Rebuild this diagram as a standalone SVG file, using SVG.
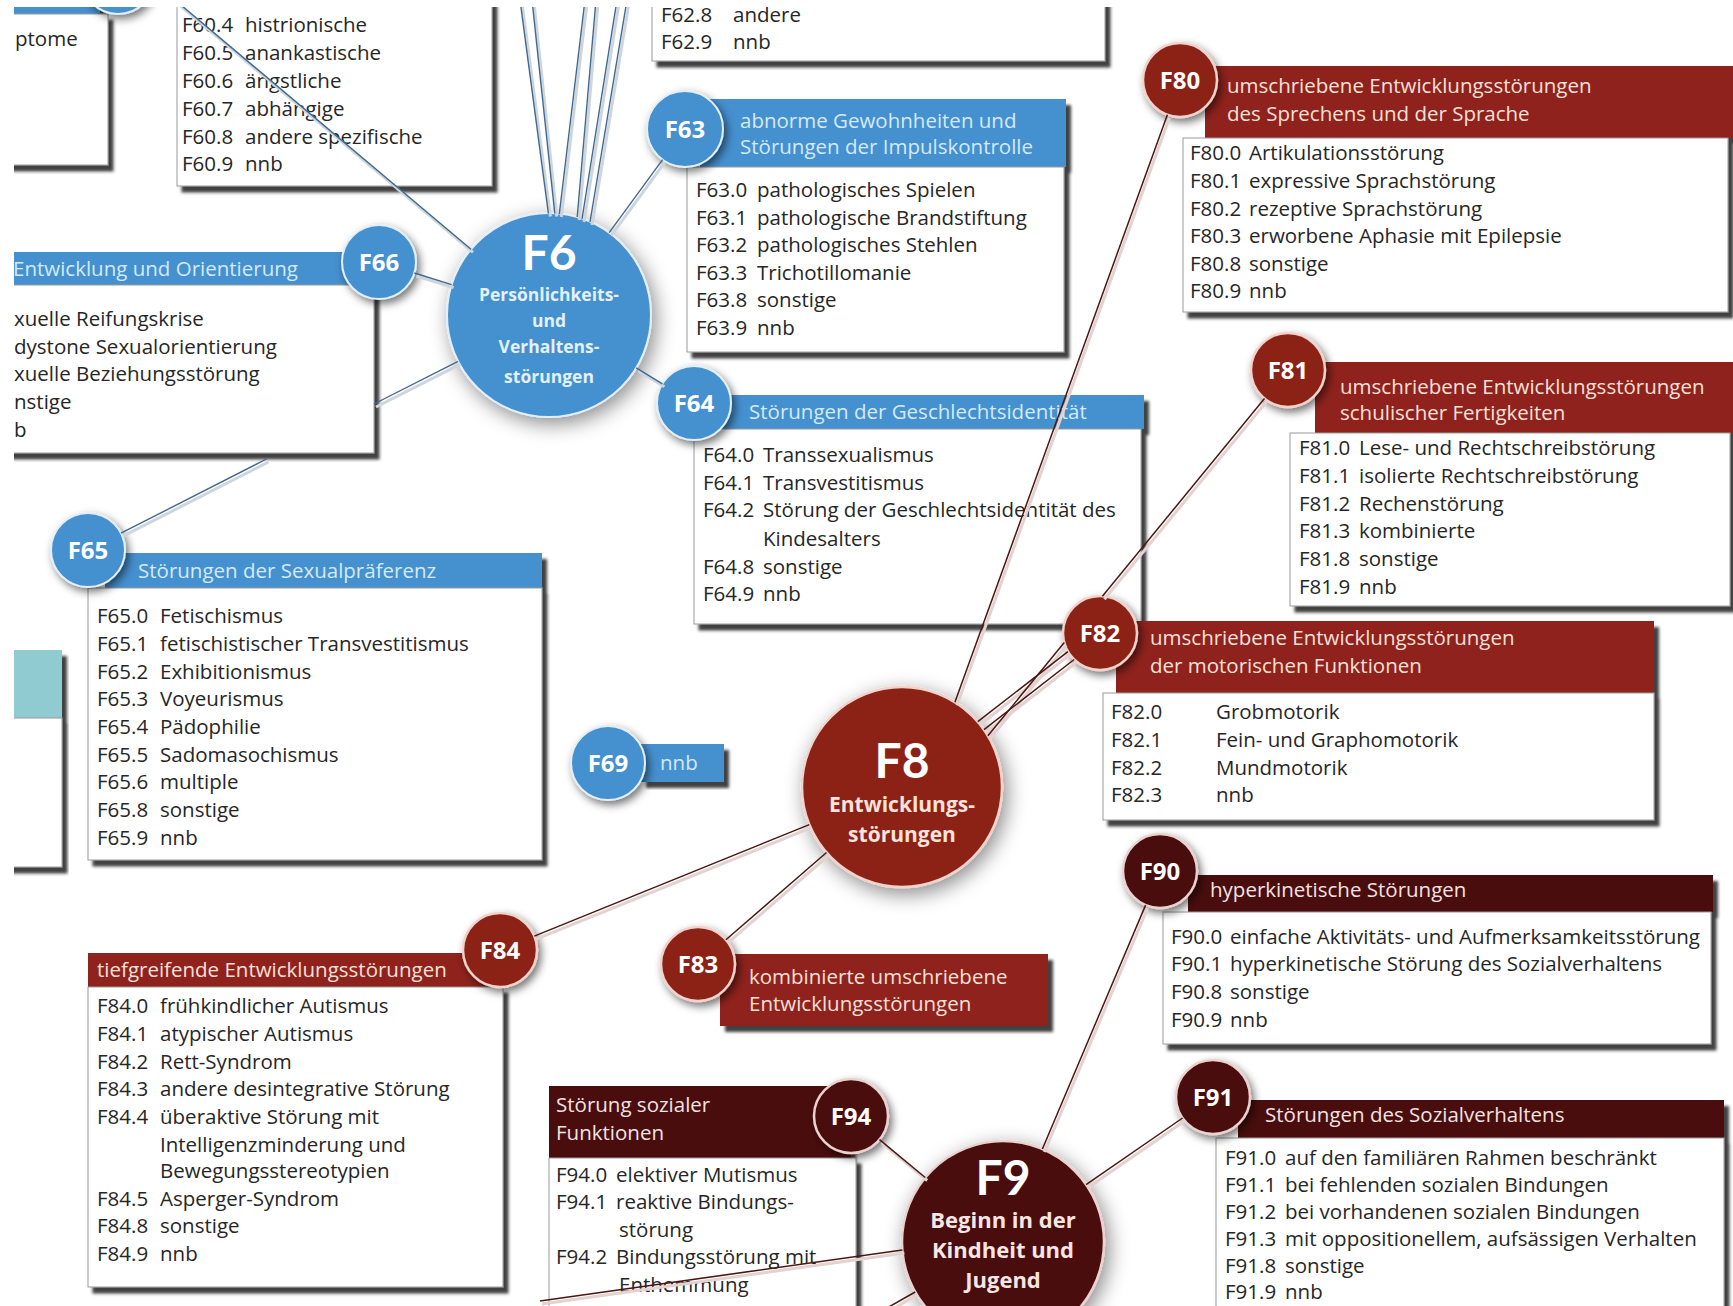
<svg xmlns="http://www.w3.org/2000/svg" width="1733" height="1306" viewBox="0 0 1733 1306">
<defs>
<style>
text{font-family:"Open Sans","Noto Sans","Liberation Sans",sans-serif;}
.t{font-size:20.5px;fill:#262626;}
.hb{font-size:20.5px;fill:#d4eaf9;}
.hr{font-size:20.5px;fill:#f7e0d9;}
.hm{font-size:20.5px;fill:#f2e2e2;}
.body{fill:#fff;stroke:#9a9a9a;stroke-width:1;}
.blue{fill:#4590cf;}
.red{fill:#8f241b;}
.mar{fill:#4a0d0e;}
.teal{fill:#8fcbd1;}
.cb{fill:#4590cf;stroke:#e2eff9;stroke-width:2;}
.cr{fill:#8c2219;stroke:#f1d3cb;stroke-width:2.5;}
.cm{fill:#4a0c0d;stroke:#ead2ce;stroke-width:2.5;}
.cl{font-size:24px;font-weight:700;fill:#fff;text-anchor:middle;}
.big{font-family:Lato,"Open Sans",sans-serif;font-size:48px;font-weight:700;fill:#fff;text-anchor:middle;}
.sub{font-weight:700;text-anchor:middle;}
.lb{stroke:#42698e;stroke-width:1.4;fill:none;}
.lbs{stroke:#cdd6de;stroke-width:3;fill:none;}
.lr{stroke:#4b1611;stroke-width:1.5;fill:none;}
.lrs{stroke:#e2d2d0;stroke-width:3;fill:none;}
</style>
<filter id="bs" x="-5%" y="-5%" width="115%" height="125%">
<feDropShadow dx="5" dy="6" stdDeviation="1.8" flood-color="#1e1e1e" flood-opacity="0.85"/>
</filter>
<filter id="cs" x="-40%" y="-40%" width="190%" height="190%">
<feDropShadow dx="3" dy="4" stdDeviation="4" flood-color="#000" flood-opacity="0.55"/>
</filter>
<filter id="gs" x="-40%" y="-40%" width="190%" height="190%">
<feDropShadow dx="4" dy="6" stdDeviation="10" flood-color="#000" flood-opacity="0.45"/>
</filter>
<clipPath id="frame"><rect x="14" y="7" width="1719" height="1299"/></clipPath>
</defs>
<rect width="1733" height="1306" fill="#fff"/>
<g clip-path="url(#frame)">

<g id="node-topleft">
<g filter="url(#bs)"><rect class="blue" x="0" y="-10" width="100" height="24"/><rect class="body" x="0" y="14" width="108" height="151"/></g>
<text class="t" x="15" y="46">ptome</text>
<circle class="cb" cx="118" cy="-22" r="36" filter="url(#cs)"/>
</g>

<g id="F60">
<g filter="url(#bs)"><rect class="body" x="177" y="-10" width="315" height="196"/></g>
<text class="t" y="32"><tspan x="182">F60.4</tspan><tspan x="245">histrionische</tspan></text>
<text class="t" y="60"><tspan x="182">F60.5</tspan><tspan x="245">anankastische</tspan></text>
<text class="t" y="87.5"><tspan x="182">F60.6</tspan><tspan x="245">ängstliche</tspan></text>
<text class="t" y="116"><tspan x="182">F60.7</tspan><tspan x="245">abhängige</tspan></text>
<text class="t" y="144"><tspan x="182">F60.8</tspan><tspan x="245">andere spezifische</tspan></text>
<text class="t" y="170.5"><tspan x="182">F60.9</tspan><tspan x="245">nnb</tspan></text>
</g>

<g id="F62">
<g filter="url(#bs)"><rect class="body" x="652" y="-10" width="453" height="71"/></g>
<text class="t" y="22"><tspan x="661">F62.8</tspan><tspan x="733">andere</tspan></text>
<text class="t" y="48.5"><tspan x="661">F62.9</tspan><tspan x="733">nnb</tspan></text>
</g>

<g id="node-teal">
<g filter="url(#bs)"><rect class="teal" x="0" y="650" width="62" height="68"/><rect class="body" x="0" y="718" width="62" height="149"/></g>
</g>

<g id="F66">
<g filter="url(#bs)"><rect class="blue" x="0" y="252" width="365" height="33"/><rect class="body" x="0" y="285" width="374" height="168"/></g>
<text class="hb" x="13" y="275.5">Entwicklung und Orientierung</text>
<text class="t" x="14" y="326">xuelle Reifungskrise</text>
<text class="t" x="14" y="353.5">dystone Sexualorientierung</text>
<text class="t" x="14" y="381">xuelle Beziehungsstörung</text>
<text class="t" x="14" y="409">nstige</text>
<text class="t" x="14" y="436.5">b</text>
<circle class="cb" cx="379" cy="262" r="37" filter="url(#cs)"/>
<text class="cl" x="379" y="270.5">F66</text>
</g>

<g id="F63">
<g filter="url(#bs)"><rect class="blue" x="700" y="99" width="366" height="68"/><rect class="body" x="687" y="167" width="377" height="185"/></g>
<text class="hb" x="740" y="128">abnorme Gewohnheiten und</text>
<text class="hb" x="740" y="154">Störungen der Impulskontrolle</text>
<text class="t" y="197"><tspan x="696">F63.0</tspan><tspan x="757">pathologisches Spielen</tspan></text>
<text class="t" y="224.5"><tspan x="696">F63.1</tspan><tspan x="757">pathologische Brandstiftung</tspan></text>
<text class="t" y="252"><tspan x="696">F63.2</tspan><tspan x="757">pathologisches Stehlen</tspan></text>
<text class="t" y="279.5"><tspan x="696">F63.3</tspan><tspan x="757">Trichotillomanie</tspan></text>
<text class="t" y="307"><tspan x="696">F63.8</tspan><tspan x="757">sonstige</tspan></text>
<text class="t" y="334.5"><tspan x="696">F63.9</tspan><tspan x="757">nnb</tspan></text>
<circle class="cb" cx="685" cy="129" r="38" filter="url(#cs)"/>
<text class="cl" x="685" y="137.5">F63</text>
</g>

<g id="F64">
<g filter="url(#bs)"><rect class="blue" x="718" y="395" width="426" height="34"/><rect class="body" x="694" y="429" width="447" height="195"/></g>
<text class="hb" x="749" y="418.5">Störungen der Geschlechtsidentität</text>
<text class="t" y="462"><tspan x="703">F64.0</tspan><tspan x="763">Transsexualismus</tspan></text>
<text class="t" y="489.5"><tspan x="703">F64.1</tspan><tspan x="763">Transvestitismus</tspan></text>
<text class="t" y="517"><tspan x="703">F64.2</tspan><tspan x="763">Störung der Geschlechtsidentität des</tspan></text>
<text class="t" x="763" y="545.5">Kindesalters</text>
<text class="t" y="573.5"><tspan x="703">F64.8</tspan><tspan x="763">sonstige</tspan></text>
<text class="t" y="601"><tspan x="703">F64.9</tspan><tspan x="763">nnb</tspan></text>
<circle class="cb" cx="694" cy="403" r="37" filter="url(#cs)"/>
<text class="cl" x="694" y="411.5">F64</text>
</g>

<g id="F65">
<g filter="url(#bs)"><rect class="blue" x="105" y="553" width="437" height="35"/><rect class="body" x="88" y="588" width="454" height="272"/></g>
<text class="hb" x="138" y="577.5">Störungen der Sexualpräferenz</text>
<text class="t" y="623"><tspan x="97">F65.0</tspan><tspan x="160">Fetischismus</tspan></text>
<text class="t" y="651"><tspan x="97">F65.1</tspan><tspan x="160">fetischistischer Transvestitismus</tspan></text>
<text class="t" y="678.5"><tspan x="97">F65.2</tspan><tspan x="160">Exhibitionismus</tspan></text>
<text class="t" y="706"><tspan x="97">F65.3</tspan><tspan x="160">Voyeurismus</tspan></text>
<text class="t" y="734"><tspan x="97">F65.4</tspan><tspan x="160">Pädophilie</tspan></text>
<text class="t" y="761.5"><tspan x="97">F65.5</tspan><tspan x="160">Sadomasochismus</tspan></text>
<text class="t" y="789"><tspan x="97">F65.6</tspan><tspan x="160">multiple</tspan></text>
<text class="t" y="817"><tspan x="97">F65.8</tspan><tspan x="160">sonstige</tspan></text>
<text class="t" y="844.5"><tspan x="97">F65.9</tspan><tspan x="160">nnb</tspan></text>
<circle class="cb" cx="88" cy="550" r="37" filter="url(#cs)"/>
<text class="cl" x="88" y="558.5">F65</text>
</g>

<g id="F69">
<g filter="url(#bs)"><rect class="blue" x="641" y="744" width="83" height="38"/></g>
<text class="hb" x="660" y="769.5">nnb</text>
<circle class="cb" cx="608" cy="763" r="37" filter="url(#cs)"/>
<text class="cl" x="608" y="771.5">F69</text>
</g>

<g id="F80">
<g filter="url(#bs)"><rect class="red" x="1205" y="66" width="540" height="72"/><rect class="body" x="1183" y="138" width="545" height="174"/></g>
<text class="hr" x="1227" y="93">umschriebene Entwicklungsstörungen</text>
<text class="hr" x="1227" y="121">des Sprechens und der Sprache</text>
<text class="t" y="160"><tspan x="1190">F80.0</tspan><tspan x="1249">Artikulationsstörung</tspan></text>
<text class="t" y="187.5"><tspan x="1190">F80.1</tspan><tspan x="1249">expressive Sprachstörung</tspan></text>
<text class="t" y="215.5"><tspan x="1190">F80.2</tspan><tspan x="1249">rezeptive Sprachstörung</tspan></text>
<text class="t" y="243"><tspan x="1190">F80.3</tspan><tspan x="1249">erworbene Aphasie mit Epilepsie</tspan></text>
<text class="t" y="270.5"><tspan x="1190">F80.8</tspan><tspan x="1249">sonstige</tspan></text>
<text class="t" y="298"><tspan x="1190">F80.9</tspan><tspan x="1249">nnb</tspan></text>
<circle class="cr" cx="1180" cy="80" r="37" filter="url(#cs)"/>
<text class="cl" x="1180" y="88.5">F80</text>
</g>

<g id="F81">
<g filter="url(#bs)"><rect class="red" x="1315" y="362" width="430" height="71"/><rect class="body" x="1290" y="433" width="440" height="173"/></g>
<text class="hr" x="1340" y="394">umschriebene Entwicklungsstörungen</text>
<text class="hr" x="1340" y="420">schulischer Fertigkeiten</text>
<text class="t" y="455"><tspan x="1299">F81.0</tspan><tspan x="1359">Lese- und Rechtschreibstörung</tspan></text>
<text class="t" y="483"><tspan x="1299">F81.1</tspan><tspan x="1359">isolierte Rechtschreibstörung</tspan></text>
<text class="t" y="510.5"><tspan x="1299">F81.2</tspan><tspan x="1359">Rechenstörung</tspan></text>
<text class="t" y="538"><tspan x="1299">F81.3</tspan><tspan x="1359">kombinierte</tspan></text>
<text class="t" y="565.5"><tspan x="1299">F81.8</tspan><tspan x="1359">sonstige</tspan></text>
<text class="t" y="593.5"><tspan x="1299">F81.9</tspan><tspan x="1359">nnb</tspan></text>
<circle class="cr" cx="1288" cy="370" r="37" filter="url(#cs)"/>
<text class="cl" x="1288" y="378.5">F81</text>
</g>

<g id="F82">
<g filter="url(#bs)"><rect class="red" x="1116" y="621" width="538" height="72"/><rect class="body" x="1103" y="693" width="551" height="127"/></g>
<text class="hr" x="1150" y="645">umschriebene Entwicklungsstörungen</text>
<text class="hr" x="1150" y="673">der motorischen Funktionen</text>
<text class="t" y="719"><tspan x="1111">F82.0</tspan><tspan x="1216">Grobmotorik</tspan></text>
<text class="t" y="747"><tspan x="1111">F82.1</tspan><tspan x="1216">Fein- und Graphomotorik</tspan></text>
<text class="t" y="774.5"><tspan x="1111">F82.2</tspan><tspan x="1216">Mundmotorik</tspan></text>
<text class="t" y="802"><tspan x="1111">F82.3</tspan><tspan x="1216">nnb</tspan></text>
<circle class="cr" cx="1100" cy="633" r="37" filter="url(#cs)"/>
<text class="cl" x="1100" y="641.5">F82</text>
</g>

<g id="F83">
<g filter="url(#bs)"><rect class="red" x="720" y="954" width="328" height="72"/></g>
<text class="hr" x="749" y="984">kombinierte umschriebene</text>
<text class="hr" x="749" y="1011">Entwicklungsstörungen</text>
<circle class="cr" cx="698" cy="964" r="37" filter="url(#cs)"/>
<text class="cl" x="698" y="972.5">F83</text>
</g>

<g id="F84">
<g filter="url(#bs)"><rect class="red" x="88" y="953" width="400" height="34"/><rect class="body" x="88" y="987" width="415" height="300"/></g>
<text class="hr" x="97" y="976.5">tiefgreifende Entwicklungsstörungen</text>
<text class="t" y="1013"><tspan x="97">F84.0</tspan><tspan x="160">frühkindlicher Autismus</tspan></text>
<text class="t" y="1041"><tspan x="97">F84.1</tspan><tspan x="160">atypischer Autismus</tspan></text>
<text class="t" y="1068.5"><tspan x="97">F84.2</tspan><tspan x="160">Rett-Syndrom</tspan></text>
<text class="t" y="1096"><tspan x="97">F84.3</tspan><tspan x="160">andere desintegrative Störung</tspan></text>
<text class="t" y="1124"><tspan x="97">F84.4</tspan><tspan x="160">überaktive Störung mit</tspan></text>
<text class="t" x="160" y="1151.5">Intelligenzminderung und</text>
<text class="t" x="160" y="1178">Bewegungsstereotypien</text>
<text class="t" y="1205.5"><tspan x="97">F84.5</tspan><tspan x="160">Asperger-Syndrom</tspan></text>
<text class="t" y="1233"><tspan x="97">F84.8</tspan><tspan x="160">sonstige</tspan></text>
<text class="t" y="1261"><tspan x="97">F84.9</tspan><tspan x="160">nnb</tspan></text>
<circle class="cr" cx="500" cy="950" r="37" filter="url(#cs)"/>
<text class="cl" x="500" y="958.5">F84</text>
</g>

<g id="F90">
<g filter="url(#bs)"><rect class="mar" x="1188" y="875" width="525" height="37"/><rect class="body" x="1163" y="912" width="548" height="132"/></g>
<text class="hm" x="1210" y="897">hyperkinetische Störungen</text>
<text class="t" y="943.5"><tspan x="1171">F90.0</tspan><tspan x="1230">einfache Aktivitäts- und Aufmerksamkeitsstörung</tspan></text>
<text class="t" y="971"><tspan x="1171">F90.1</tspan><tspan x="1230">hyperkinetische Störung des Sozialverhaltens</tspan></text>
<text class="t" y="999"><tspan x="1171">F90.8</tspan><tspan x="1230">sonstige</tspan></text>
<text class="t" y="1026.5"><tspan x="1171">F90.9</tspan><tspan x="1230">nnb</tspan></text>
<circle class="cm" cx="1160" cy="871" r="37" filter="url(#cs)"/>
<text class="cl" x="1160" y="879.5">F90</text>
</g>

<g id="F91">
<g filter="url(#bs)"><rect class="mar" x="1238" y="1100" width="486" height="38"/><rect class="body" x="1216" y="1138" width="508" height="200"/></g>
<text class="hm" x="1265" y="1121.5">Störungen des Sozialverhaltens</text>
<text class="t" y="1165"><tspan x="1225">F91.0</tspan><tspan x="1285">auf den familiären Rahmen beschränkt</tspan></text>
<text class="t" y="1192"><tspan x="1225">F91.1</tspan><tspan x="1285">bei fehlenden sozialen Bindungen</tspan></text>
<text class="t" y="1219"><tspan x="1225">F91.2</tspan><tspan x="1285">bei vorhandenen sozialen Bindungen</tspan></text>
<text class="t" y="1246"><tspan x="1225">F91.3</tspan><tspan x="1285">mit oppositionellem, aufsässigen Verhalten</tspan></text>
<text class="t" y="1273"><tspan x="1225">F91.8</tspan><tspan x="1285">sonstige</tspan></text>
<text class="t" y="1299"><tspan x="1225">F91.9</tspan><tspan x="1285">nnb</tspan></text>
<circle class="cm" cx="1213" cy="1097" r="37" filter="url(#cs)"/>
<text class="cl" x="1213" y="1105.5">F91</text>
</g>

<g id="F94">
<g filter="url(#bs)"><rect class="mar" x="549" y="1086" width="302" height="72"/><rect class="body" x="549" y="1158" width="307" height="180"/></g>
<text class="hm" x="556" y="1112">Störung sozialer</text>
<text class="hm" x="556" y="1140">Funktionen</text>
<text class="t" y="1181.5"><tspan x="556">F94.0</tspan><tspan x="616">elektiver Mutismus</tspan></text>
<text class="t" y="1209"><tspan x="556">F94.1</tspan><tspan x="616">reaktive Bindungs-</tspan></text>
<text class="t" x="619" y="1236.5">störung</text>
<text class="t" y="1264"><tspan x="556">F94.2</tspan><tspan x="616">Bindungsstörung mit</tspan></text>
<text class="t" x="619" y="1291.5">Enthemmung</text>
<circle class="cm" cx="851" cy="1116" r="37" filter="url(#cs)"/>
<text class="cl" x="851" y="1124.5">F94</text>
</g>

<g id="F6">
<circle class="cb" cx="549" cy="315" r="102" filter="url(#gs)"/>
<text class="big" x="549" y="270">F6</text>
<text class="sub" x="549" y="301" fill="#e3f1fb" font-size="17.5">Persönlichkeits-</text>
<text class="sub" x="549" y="327" fill="#e3f1fb" font-size="17.5">und</text>
<text class="sub" x="549" y="353" fill="#e3f1fb" font-size="17.5">Verhaltens-</text>
<text class="sub" x="549" y="383" fill="#e3f1fb" font-size="17.5">störungen</text>
</g>

<g id="F8">
<circle class="cr" cx="902" cy="787" r="100" fill="#9b2b21" filter="url(#gs)"/>
<text class="big" x="902" y="778">F8</text>
<text class="sub" x="902" y="812" fill="#f9e3dc" font-size="21">Entwicklungs-</text>
<text class="sub" x="902" y="842" fill="#f9e3dc" font-size="21">störungen</text>
</g>

<g id="F9">
<circle class="cm" cx="1003" cy="1242" r="101" filter="url(#gs)"/>
<text class="big" x="1003" y="1195">F9</text>
<text class="sub" x="1003" y="1228" fill="#f6e6e4" font-size="22">Beginn in der</text>
<text class="sub" x="1003" y="1258" fill="#f6e6e4" font-size="22">Kindheit und</text>
<text class="sub" x="1003" y="1288" fill="#f6e6e4" font-size="22">Jugend</text>
</g>

<g id="connectors">
<g transform="translate(2,3)">
<line class="lbs" x1="548.4" y1="213.5" x2="520" y2="0"/>
<line class="lbs" x1="554.8" y1="213.5" x2="532" y2="0"/>
<line class="lbs" x1="559.3" y1="214" x2="585" y2="0"/>
<line class="lbs" x1="577.2" y1="217" x2="596" y2="0"/>
<line class="lbs" x1="582" y1="219" x2="617" y2="0"/>
<line class="lbs" x1="590" y1="222" x2="627" y2="0"/>
<line class="lbs" x1="471" y1="249.3" x2="175" y2="0"/>
<line class="lbs" x1="451.6" y1="284.6" x2="414.3" y2="273"/>
<line class="lbs" x1="458.1" y1="361.3" x2="374" y2="404"/>
<line class="lbs" x1="266.5" y1="459" x2="121" y2="533.2"/>
<line class="lbs" x1="609.2" y1="232.7" x2="662.6" y2="159.7"/>
<line class="lbs" x1="636.2" y1="367.9" x2="662.4" y2="383.8"/>
<line class="lrs" x1="954.9" y1="702.2" x2="1167.4" y2="114.8"/>
<line class="lrs" x1="987.9" y1="735.8" x2="1064.3" y2="642.6"/>
<line class="lrs" x1="1102.4" y1="596.2" x2="1264.5" y2="398.6"/>
<line class="lrs" x1="977.8" y1="721.7" x2="1067.9" y2="651.6"/>
<line class="lrs" x1="984" y1="729.6" x2="1074.1" y2="659.5"/>
<line class="lrs" x1="809.3" y1="824.6" x2="534.3" y2="936.1"/>
<line class="lrs" x1="826.5" y1="852.5" x2="725.9" y2="939.8"/>
<line class="lrs" x1="1042.4" y1="1149" x2="1145.6" y2="905.1"/>
<line class="lrs" x1="1086.1" y1="1184.6" x2="1182.6" y2="1118"/>
<line class="lrs" x1="925.2" y1="1177.5" x2="879.5" y2="1139.6"/>
<line class="lrs" x1="902.4" y1="1249.9" x2="540" y2="1301"/>
<line class="lrs" x1="915.2" y1="1292" x2="880" y2="1312"/>
</g>
<line class="lb" x1="548.4" y1="213.5" x2="520" y2="0"/>
<line class="lb" x1="554.8" y1="213.5" x2="532" y2="0"/>
<line class="lb" x1="559.3" y1="214" x2="585" y2="0"/>
<line class="lb" x1="577.2" y1="217" x2="596" y2="0"/>
<line class="lb" x1="582" y1="219" x2="617" y2="0"/>
<line class="lb" x1="590" y1="222" x2="627" y2="0"/>
<line class="lb" x1="471" y1="249.3" x2="175" y2="0"/>
<line class="lb" x1="451.6" y1="284.6" x2="414.3" y2="273"/>
<line class="lb" x1="458.1" y1="361.3" x2="374" y2="404"/>
<line class="lb" x1="266.5" y1="459" x2="121" y2="533.2"/>
<line class="lb" x1="609.2" y1="232.7" x2="662.6" y2="159.7"/>
<line class="lb" x1="636.2" y1="367.9" x2="662.4" y2="383.8"/>
<line class="lr" x1="954.9" y1="702.2" x2="1167.4" y2="114.8"/>
<line class="lr" x1="987.9" y1="735.8" x2="1064.3" y2="642.6"/>
<line class="lr" x1="1102.4" y1="596.2" x2="1264.5" y2="398.6"/>
<line class="lr" x1="977.8" y1="721.7" x2="1067.9" y2="651.6"/>
<line class="lr" x1="984" y1="729.6" x2="1074.1" y2="659.5"/>
<line class="lr" x1="809.3" y1="824.6" x2="534.3" y2="936.1"/>
<line class="lr" x1="826.5" y1="852.5" x2="725.9" y2="939.8"/>
<line class="lr" x1="1042.4" y1="1149" x2="1145.6" y2="905.1"/>
<line class="lr" x1="1086.1" y1="1184.6" x2="1182.6" y2="1118"/>
<line class="lr" x1="925.2" y1="1177.5" x2="879.5" y2="1139.6"/>
<line class="lr" x1="902.4" y1="1249.9" x2="540" y2="1301"/>
<line class="lr" x1="915.2" y1="1292" x2="880" y2="1312"/>
</g>

</g>
</svg>
